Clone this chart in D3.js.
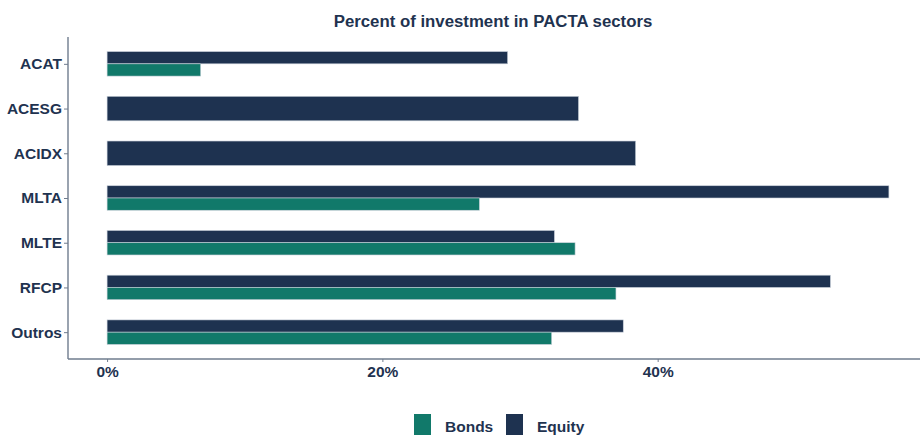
<!DOCTYPE html>
<html>
<head>
<meta charset="utf-8">
<script src="https://cdn.jsdelivr.net/npm/d3@7"></script>
<style>
  body { margin: 0; background: #fff; }
  text { font-family: "Liberation Sans", Arial, Helvetica, sans-serif; font-weight: bold; fill: #1f3350; }
</style>
</head>
<body>
<svg id="chart" width="920" height="435"></svg>
<script>
// sectors, top to bottom
var sectors = ["ACAT", "ACESG", "ACIDX", "MLTA", "MLTE", "RFCP", "Outros"];
// percent of investment (null = no holding)
var equity = [29.1, 34.25, 38.4, 56.8, 32.5, 52.55, 37.5];
var bonds  = [6.8, null, null, 27.05, 34.0, 36.97, 32.3];
var colors = {Bonds: "#11796a", Equity: "#1e3250"};
var xTicks = [0, 20, 40];

var svg = d3.select("#chart");
var panel = {left: 68, top: 37, bottom: 359, right: 928};

// ggplot style expansion
var maxV = d3.max(equity.concat(bonds));
var x = d3.scaleLinear()
    .domain([-maxV * 0.05, maxV * 1.05])
    .range([panel.left, panel.right]);

var y = d3.scalePoint()
    .domain(sectors)
    .range([panel.top, panel.bottom])
    .padding(0.6);
var barW = y.step() * 0.548;

var rows = [];
sectors.forEach(function(s, i) {
  var present = [];
  if (equity[i] != null) present.push({series: "Equity", value: equity[i]});
  if (bonds[i] != null) present.push({series: "Bonds", value: bonds[i]});
  var h = barW / present.length;
  present.forEach(function(p, j) {
    rows.push({sector: s, series: p.series, value: p.value, y0: y(s) - barW / 2 + j * h, h: h});
  });
});

svg.append("g")
  .selectAll("rect")
  .data(rows)
  .enter().append("rect")
    .attr("x", x(0))
    .attr("y", function(d) { return d.y0; })
    .attr("width", function(d) { return x(d.value) - x(0); })
    .attr("height", function(d) { return d.h; })
    .attr("fill", function(d) { return colors[d.series]; })
    .attr("stroke", "#c9d1da")
    .attr("stroke-width", 0.6);

// axes
var axisColor = "#6f7c8e";
var yAxis = svg.append("g")
    .attr("transform", "translate(" + panel.left + ",0)")
    .call(d3.axisLeft(y).tickSize(4).tickPadding(2));
yAxis.select(".domain").attr("d", "M0," + panel.top + "V" + panel.bottom).attr("stroke", axisColor).attr("stroke-width", 1.4);
yAxis.selectAll(".tick line").attr("stroke", axisColor);
yAxis.selectAll("text").attr("font-size", 15.5).attr("fill", "#1f3350");

var xAxis = svg.append("g")
    .attr("transform", "translate(0," + panel.bottom + ")")
    .call(d3.axisBottom(x).tickValues(xTicks).tickSize(3).tickPadding(4)
      .tickFormat(function(d) { return d + "%"; }));
xAxis.select(".domain").attr("d", "M" + panel.left + ",0H" + panel.right).attr("stroke", axisColor).attr("stroke-width", 1.4);
xAxis.selectAll(".tick line").attr("stroke", axisColor);
xAxis.selectAll("text").attr("font-size", 15.5).attr("fill", "#1f3350");
svg.selectAll(".tick text").attr("font-family", null);

// title
svg.append("text")
    .attr("x", 493)
    .attr("y", 27)
    .attr("text-anchor", "middle")
    .attr("font-size", 16.8)
    .text("Percent of investment in PACTA sectors");

// legend
var legendItems = ["Bonds", "Equity"];
var lx = [414, 506];
var legend = svg.append("g").selectAll("g")
  .data(legendItems)
  .enter().append("g")
    .attr("transform", function(d, i) { return "translate(" + lx[i] + ",414)"; });
legend.append("rect")
    .attr("width", 17)
    .attr("height", 22)
    .attr("fill", function(d) { return colors[d]; });
legend.append("text")
    .attr("x", 31)
    .attr("y", 18)
    .attr("font-size", 15.5)
    .text(function(d) { return d; });
</script>
</body>
</html>
